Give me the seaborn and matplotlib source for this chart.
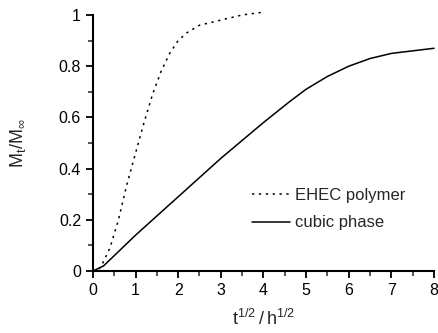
import matplotlib
matplotlib.use('Agg')
import matplotlib.pyplot as plt
import seaborn as sns
import pandas as pd
from matplotlib.ticker import MultipleLocator

# EHEC polymer (dotted)
ehec_x = [0.0, 0.1, 0.2, 0.4, 0.6, 0.8, 1.0, 1.2, 1.4, 1.6, 1.8, 2.0, 2.2, 2.5, 3.0, 3.5, 3.95]
ehec_y = [0.0, 0.0, 0.02, 0.09, 0.20, 0.34, 0.46, 0.58, 0.69, 0.78, 0.85, 0.90, 0.93, 0.96, 0.98, 1.0, 1.01]

# cubic phase (solid)
cubic_x = [0.0, 0.25, 0.5, 1.0, 2.0, 3.0, 4.0, 4.6, 5.0, 5.5, 6.0, 6.5, 7.0, 7.5, 8.0]
cubic_y = [0.0, 0.02, 0.06, 0.14, 0.29, 0.44, 0.58, 0.66, 0.71, 0.76, 0.80, 0.83, 0.85, 0.86, 0.87]

labels = ['EHEC polymer', 'cubic phase']
y_ticks = [0, 0.2, 0.4, 0.6, 0.8, 1]
y_ticklabels = ['0', '0.2', '0.4', '0.6', '0.8', '1']

df = pd.concat([
    pd.DataFrame({'x': ehec_x, 'y': ehec_y, 'serie': labels[0]}),
    pd.DataFrame({'x': cubic_x, 'y': cubic_y, 'serie': labels[1]}),
])

sns.set_style('ticks')
plt.rcParams['font.family'] = ['Liberation Sans', 'DejaVu Sans']

fig = plt.figure(figsize=(4.38, 3.33), dpi=100)
ax = fig.add_axes([0.212, 0.186, 0.779, 0.769])

sns.lineplot(data=df, x='x', y='y', hue='serie', style='serie',
             palette=['black', 'black'],
             dashes={labels[0]: (1.5, 3), labels[1]: ''},
             linewidth=1.1, ax=ax, sort=False)
for ln in ax.lines:
    ln.set_clip_on(False)

ax.set_xlim(0, 8)
ax.set_ylim(0, 1.0)
ax.xaxis.set_major_locator(MultipleLocator(1))
ax.xaxis.set_minor_locator(MultipleLocator(0.5))
ax.set_yticks(y_ticks, y_ticklabels)
ax.yaxis.set_minor_locator(MultipleLocator(0.1))
ax.tick_params(which='major', direction='out', length=5, width=1.3, labelsize=11.5, colors='black')
ax.tick_params(which='minor', direction='out', length=3.5, width=1.1)
for s in ['left', 'bottom']:
    ax.spines[s].set_linewidth(1.5)
    ax.spines[s].set_color('black')
sns.despine(ax=ax)

ax.set_xlabel(r'$\mathregular{t^{1/2}\,/\,h^{1/2}}$', fontsize=13, labelpad=8)
ax.set_ylabel(r'$\mathregular{M_t/M_\infty}$', fontsize=13, labelpad=22)

ax.legend(frameon=False, loc='lower right', bbox_to_anchor=(0.96, 0.10),
          fontsize=12, handlelength=2.3, handletextpad=0.3, labelspacing=0.75)

fig.savefig('out.png', dpi=100)
